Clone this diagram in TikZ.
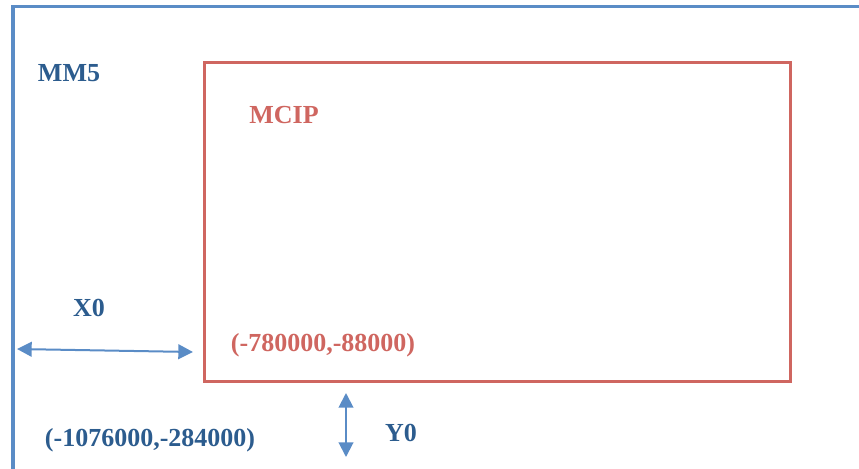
\documentclass[tikz,border=0pt]{standalone}
\usepackage{fontspec}
\setmainfont{Liberation Serif}
\usetikzlibrary{arrows.meta, positioning}
\definecolor{frameblue}{HTML}{5A8CC6}
\definecolor{textblue}{HTML}{2C5C8E}
\definecolor{boxred}{HTML}{CF6660}

\begin{document}
\begin{tikzpicture}[x=0.75pt, y=-0.75pt,
    lbl/.style={font=\fontsize{19.5}{23}\selectfont\bfseries, inner sep=0pt},
    dim/.style={{Triangle[length=11pt,width=11pt]}-{Triangle[length=11pt,width=11pt]}, frameblue, line width=1.5pt}]
    \useasboundingbox (0,0) rectangle (859,468);

    % Outer domain (cut off at right and bottom)
    \draw[frameblue, line width=2.3pt] (13,470) -- (13,6.5) -- (861,6.5);

    % Inner domain
    \node[draw=boxred, line width=2.3pt, minimum width=586*0.75pt, minimum height=319*0.75pt, inner sep=0pt, anchor=north west] (mcip) at (202.5,60.5) {};

    % Offsets
    \coordinate (xleft) at (17,349);
    \coordinate (xright) at (193,352);
    \coordinate (ytop) at (346,393);
    \coordinate (ybot) at (346,457);
    \draw[dim] (xleft) -- (xright);
    \draw[dim] (ytop) -- (ybot);

    % Labels
    \node[lbl, text=textblue] (mm5) at (69,73) {MM5};
    \node[lbl, text=boxred] (mciplbl) at (284,115) {MCIP};
    \node[lbl, text=textblue] (x0) at (89,308) {X0};
    \node[lbl, text=textblue] (y0) at (401,433) {Y0};
    \node[lbl, text=boxred] (origin) at (323,345) {(-780000,-88000)};
    \node[lbl, text=textblue] (corner) at (150,440) {(-1076000,-284000)};

\end{tikzpicture}
\end{document}
